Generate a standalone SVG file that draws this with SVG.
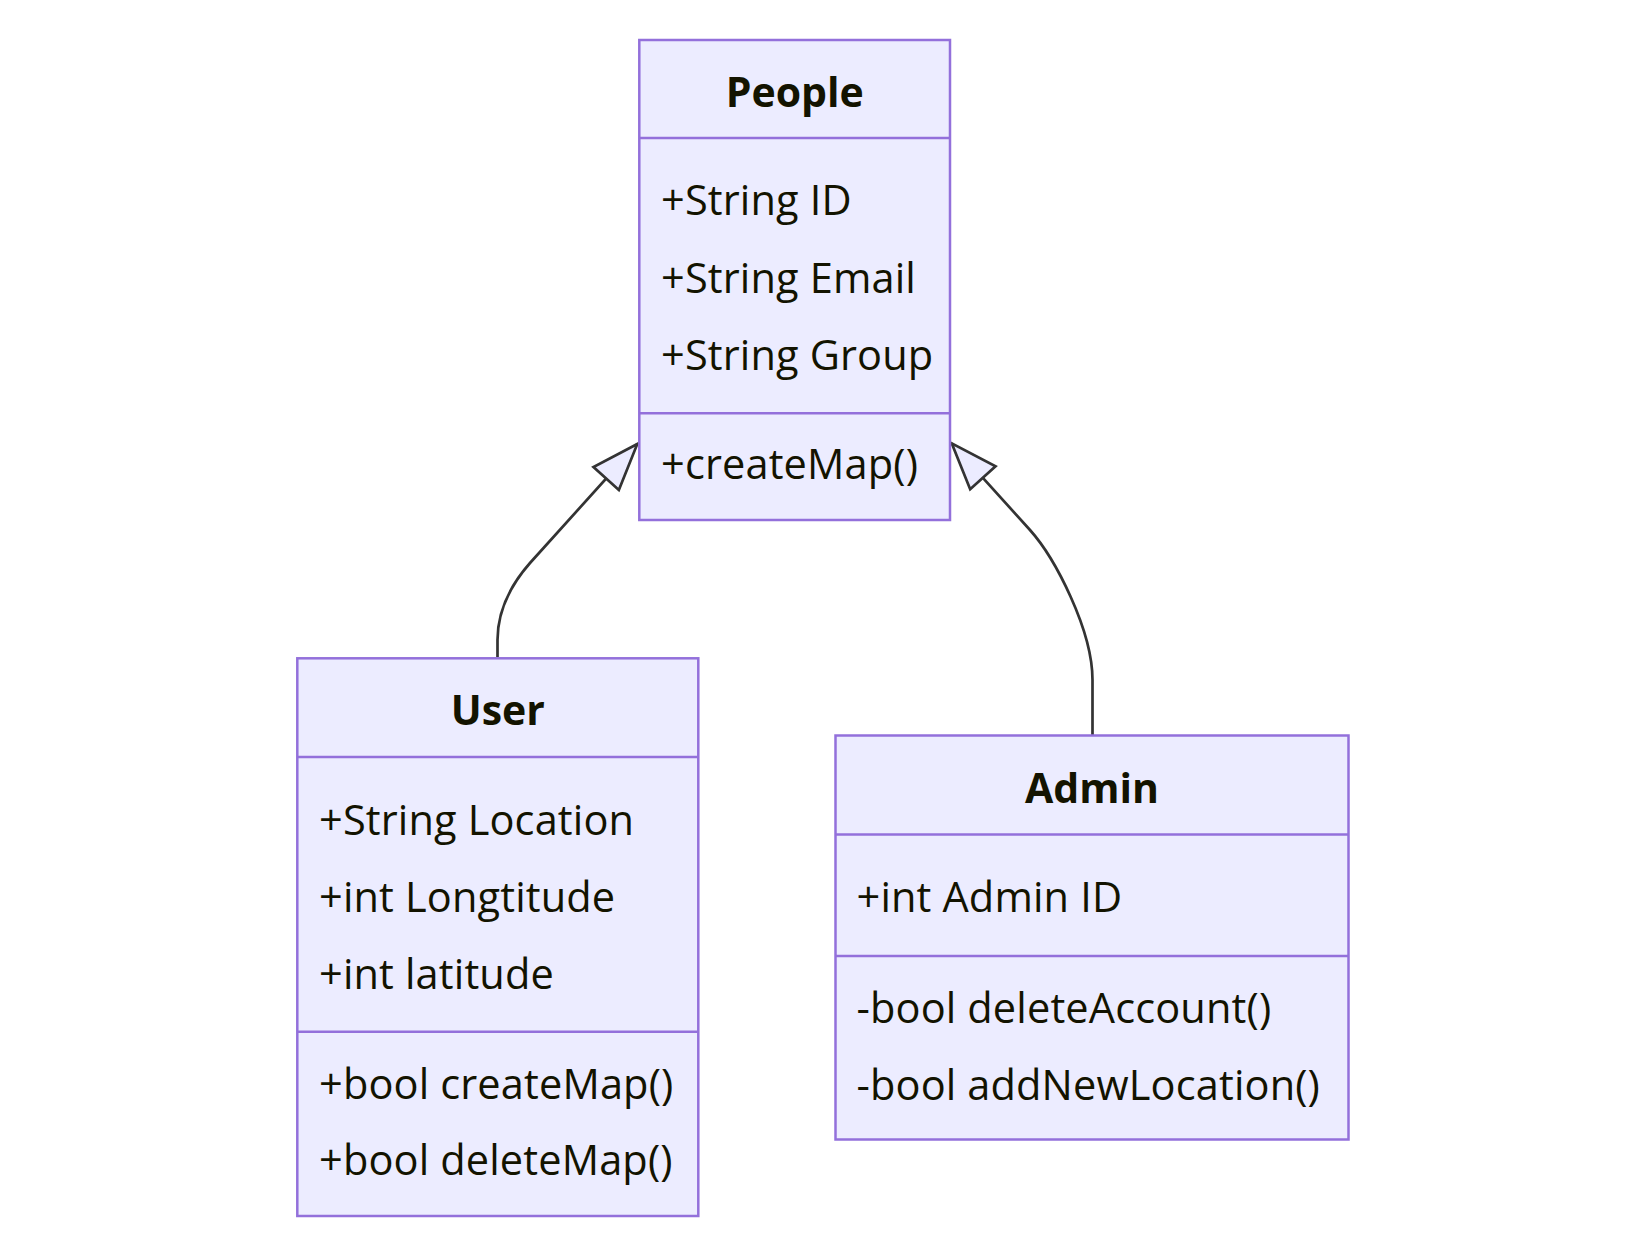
<svg xmlns="http://www.w3.org/2000/svg" width="1650" height="1236" viewBox="0 0 1650 1236">
<style>
.box{fill:#ECECFF;stroke:#9370DB;stroke-width:2.5}
.div{stroke:#9370DB;stroke-width:2.5;fill:none}
.title{font-family:"Open Sans","Liberation Sans",sans-serif;font-size:41px;font-weight:bold;fill:#131300;text-anchor:middle}
.member{font-family:"Open Sans","Liberation Sans",sans-serif;font-size:41.5px;letter-spacing:0.15px;fill:#131300}
.edge{fill:none;stroke:#333333;stroke-width:2.7}
</style>
<defs>
<marker id="extends" markerUnits="userSpaceOnUse" markerWidth="60" markerHeight="40" viewBox="0 0 60 40" refX="50" refY="20" orient="auto" overflow="visible">
<path d="M50,20 L3.5,2.9 L3.5,37.1 Z" fill="#ECECFF" stroke="#333333" stroke-width="2.7" stroke-linejoin="miter"/>
</marker>
</defs>
<rect width="1650" height="1236" fill="#ffffff"/>
<g id="connectors">
<path class="edge" d="M497.5,657 L497.5,640 Q497.5,600 530,563 L637.3,444" marker-end="url(#extends)"/>
<path class="edge" d="M1092.5,735 L1092.5,680 C1092.5,630 1055,558 1030,530 L951.7,443.3" marker-end="url(#extends)"/>
</g>
<g id="People">
<rect class="box" x="639.3" y="40" width="310.7" height="480"/>
<line class="div" x1="639.3" y1="138" x2="950" y2="138"/>
<line class="div" x1="639.3" y1="413.3" x2="950" y2="413.3"/>
<text class="title" x="794.7" y="107">People</text>
<text class="member" x="661" y="215">+String ID</text>
<text class="member" x="661" y="292.5">+String Email</text>
<text class="member" x="661" y="370">+String Group</text>
<text class="member" x="661" y="479">+createMap()</text>
</g>
<g id="User">
<rect class="box" x="297.3" y="658.3" width="401" height="557.7"/>
<line class="div" x1="297.3" y1="757" x2="698.3" y2="757"/>
<line class="div" x1="297.3" y1="1031.7" x2="698.3" y2="1031.7"/>
<text class="title" x="497.8" y="725">User</text>
<text class="member" x="319" y="835">+String Location</text>
<text class="member" x="319" y="912">+int Longtitude</text>
<text class="member" x="319" y="988.5">+int latitude</text>
<text class="member" x="319" y="1098.5">+bool createMap()</text>
<text class="member" x="319" y="1175">+bool deleteMap()</text>
</g>
<g id="Admin">
<rect class="box" x="835.5" y="735.5" width="513" height="404"/>
<line class="div" x1="835.5" y1="834.5" x2="1348.5" y2="834.5"/>
<line class="div" x1="835.5" y1="956" x2="1348.5" y2="956"/>
<text class="title" x="1092" y="802.5">Admin</text>
<text class="member" x="856.5" y="912">+int Admin ID</text>
<text class="member" x="856.5" y="1022.5">-bool deleteAccount()</text>
<text class="member" x="856.5" y="1099.5">-bool addNewLocation()</text>
</g>
</svg>
